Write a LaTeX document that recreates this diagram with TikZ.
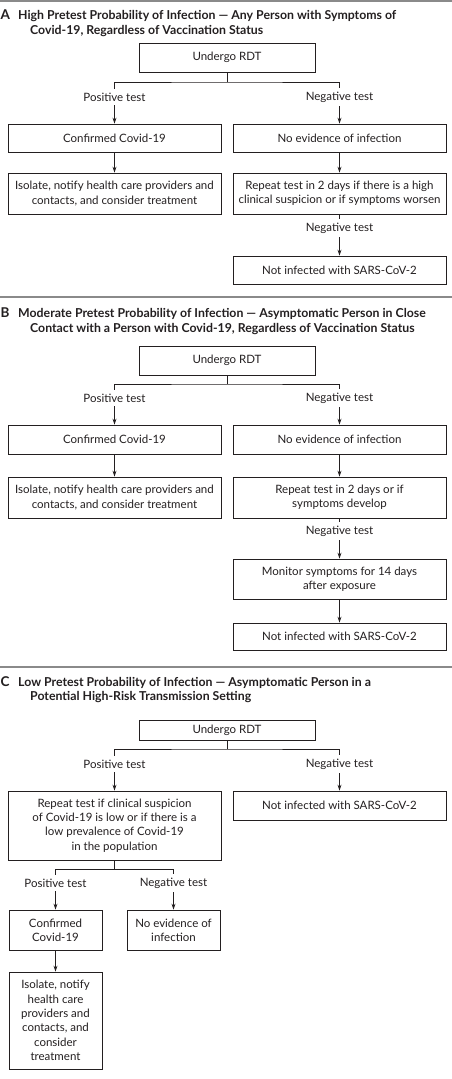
\documentclass[tikz,border=0pt]{standalone}
\usepackage{fontspec}
\setmainfont{Lato}
\usetikzlibrary{arrows.meta}
\definecolor{ink}{HTML}{231F20}
\definecolor{rulegray}{HTML}{8A8A8A}
\begin{document}
\begin{tikzpicture}[x=1pt,y=-1pt,
  every node/.style={text=ink},
  box/.style={draw=ink, line width=0.8pt, inner sep=0pt, align=center,
    font=\fontsize{11.5}{14.3}\selectfont},
  lbl/.style={inner xsep=1pt, inner ysep=4pt, font=\fontsize{11.5}{12}\selectfont},
  ttl/.style={anchor=base west, inner sep=0pt, font=\bfseries\fontsize{12.3}{13}\selectfont},
  letter/.style={anchor=base west, inner sep=0pt, font=\bfseries\fontsize{13.5}{15}\selectfont},
  ln/.style={draw=ink, line width=0.8pt},
  arr/.style={ln, -{Stealth[length=6pt,width=4pt]}},
  sep/.style={draw=rulegray, line width=1.6pt}]
\useasboundingbox (0,0) rectangle (452,1079);
% separators
\draw[sep] (0,1) -- (452,1);
\draw[sep] (0,297) -- (452,297);
\draw[sep] (0,667) -- (452,667);

% ---------- Panel A ----------
\node[letter] (lA) at (0.5,19.5) {A};
\node[ttl] (tA1) at (18,19.5) {High Pretest Probability of Infection — Any Person with Symptoms of};
\node[ttl] (tA2) at (30,34) {Covid-19, Regardless of Vaccination Status};
\node[box, minimum width=176, minimum height=29] (uA) at (227,57.5) {Undergo RDT};
\coordinate (hA) at (227,82);
\node[lbl] (pA) at (114.5,97) {Positive test};
\node[lbl] (ngA) at (339.5,97) {Negative test};
\node[box, minimum width=213, minimum height=28] (cA) at (114.5,138) {Confirmed Covid-19};
\node[box, minimum width=213, minimum height=28] (nA) at (339.5,138) {No evidence of infection};
\node[box, minimum width=213, minimum height=41] (iA) at (114.5,193.5) {Isolate, notify health care providers and\\contacts, and consider treatment};
\node[box, minimum width=213, minimum height=41] (rA) at (339.5,193.5) {Repeat test in 2 days if there is a high\\clinical suspicion or if symptoms worsen};
\node[lbl] (ngA2) at (339.5,228) {Negative test};
\node[box, minimum width=213, minimum height=28] (notA) at (339.5,270) {Not infected with SARS-CoV-2};
\draw[ln] (uA.south) -- (hA);
\draw[ln] (pA.north) |- (hA) -| (ngA.north);
\draw[arr] (pA) -- (cA);
\draw[arr] (ngA) -- (nA);
\draw[arr] (cA) -- (iA);
\draw[arr] (nA) -- (rA);
\draw[ln] (rA) -- (ngA2);
\draw[arr] (ngA2) -- (notA);

% ---------- Panel B ----------
\node[letter] (lB) at (0.5,317.5) {B};
\node[ttl] (tB1) at (18,317.5) {Moderate Pretest Probability of Infection — Asymptomatic Person in Close};
\node[ttl] (tB2) at (30,332.5) {Contact with a Person with Covid-19, Regardless of Vaccination Status};
\node[box, minimum width=176, minimum height=29] (uB) at (227,360.5) {Undergo RDT};
\coordinate (hB) at (227,384);
\node[lbl] (pB) at (114.5,398) {Positive test};
\node[lbl] (ngB) at (339.5,398) {Negative test};
\node[box, minimum width=213, minimum height=29] (cB) at (114.5,439.5) {Confirmed Covid-19};
\node[box, minimum width=213, minimum height=29] (nB) at (339.5,439.5) {No evidence of infection};
\node[box, minimum width=213, minimum height=41] (iB) at (114.5,497.5) {Isolate, notify health care providers and\\contacts, and consider treatment};
\node[box, minimum width=213, minimum height=41] (rB) at (339.5,497.5) {Repeat test in 2 days or if\\symptoms develop};
\node[lbl] (ngB2) at (339.5,531) {Negative test};
\node[box, minimum width=213, minimum height=40] (mB) at (339.5,579) {Monitor symptoms for 14 days\\after exposure};
\node[box, minimum width=213, minimum height=27] (notB) at (339.5,636.5) {Not infected with SARS-CoV-2};
\draw[ln] (uB.south) -- (hB);
\draw[ln] (pB.north) |- (hB) -| (ngB.north);
\draw[arr] (pB) -- (cB);
\draw[arr] (ngB) -- (nB);
\draw[arr] (cB) -- (iB);
\draw[arr] (nB) -- (rB);
\draw[ln] (rB) -- (ngB2);
\draw[arr] (ngB2) -- (mB);
\draw[arr] (mB) -- (notB);

% ---------- Panel C ----------
\node[letter] (lC) at (0.5,686) {C};
\node[ttl] (tC1) at (18,686) {Low Pretest Probability of Infection — Asymptomatic Person in a};
\node[ttl] (tC2) at (30,700.5) {Potential High-Risk Transmission Setting};
\node[box, minimum width=176, minimum height=20] (uC) at (227,730.5) {Undergo RDT};
\coordinate (hC) at (227,749);
\node[lbl] (pC) at (114.5,764) {Positive test};
\node[lbl] (ngC) at (339.5,764) {Negative test};
\node[box, minimum width=213, minimum height=69] (rC) at (114.5,825.5) {Repeat test if clinical suspicion\\of Covid-19 is low or if there is a\\low prevalence of Covid-19\\in the population};
\node[box, minimum width=213, minimum height=29] (notC) at (339.5,805.5) {Not infected with SARS-CoV-2};
\coordinate (hC2) at (114.5,869);
\node[lbl] (pC2) at (55.5,883) {Positive test};
\node[lbl] (ngC2) at (173.5,883) {Negative test};
\node[box, minimum width=93, minimum height=40] (cfC) at (55.5,930) {Confirmed\\Covid-19};
\node[box, minimum width=93, minimum height=40] (neC) at (173.5,930) {No evidence of\\infection};
\node[box, minimum width=93, minimum height=97] (isC) at (55.5,1020.5) {Isolate, notify\\health care\\providers and\\contacts, and\\consider\\treatment};
\draw[ln] (uC.south) -- (hC);
\draw[ln] (pC.north) |- (hC) -| (ngC.north);
\draw[arr] (pC) -- (rC);
\draw[arr] (ngC) -- (notC);
\draw[ln] (rC.south) -- (hC2);
\draw[ln] (pC2.north) |- (hC2) -| (ngC2.north);
\draw[arr] (pC2) -- (cfC);
\draw[arr] (ngC2) -- (neC);
\draw[arr] (cfC) -- (isC);
\end{tikzpicture}
\end{document}
